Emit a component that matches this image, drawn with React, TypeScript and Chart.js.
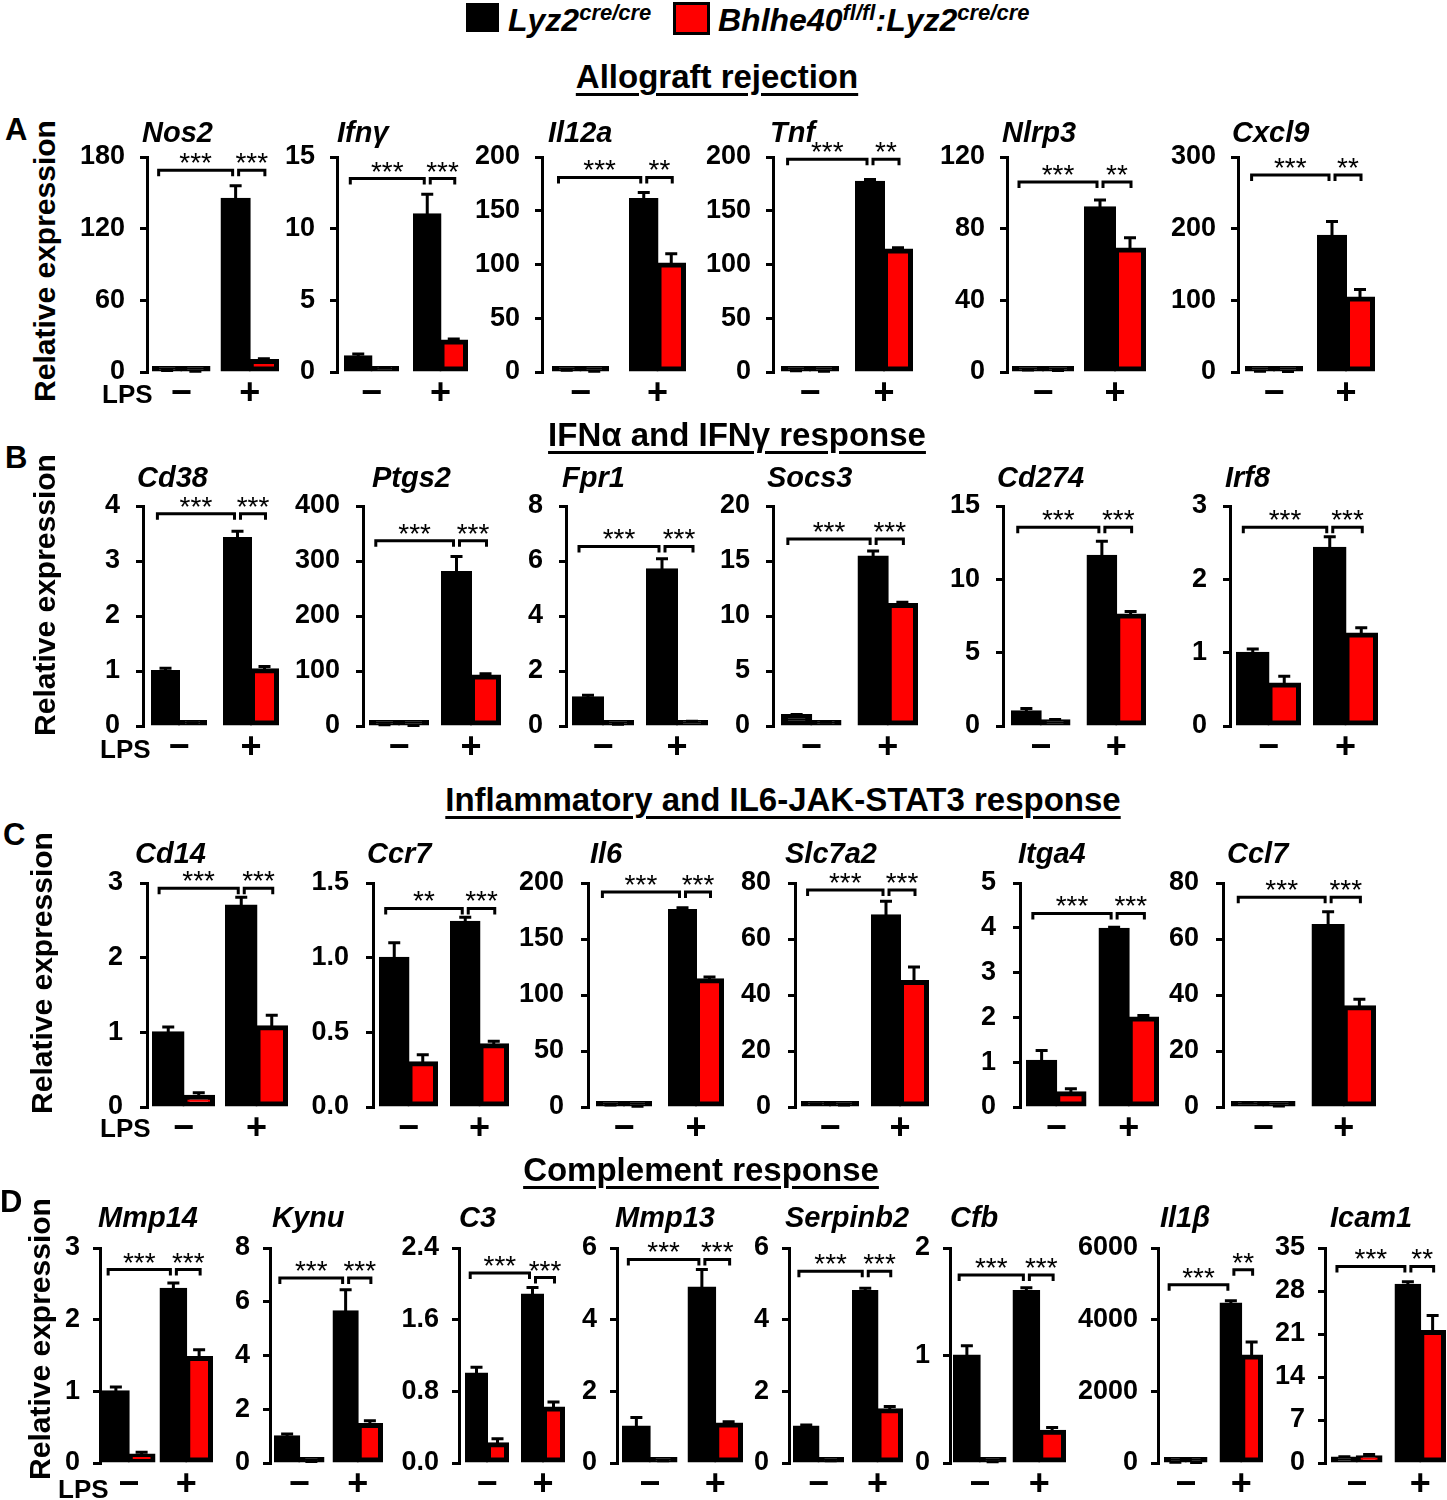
import React, { useEffect, useRef } from 'react';
import { Chart, registerables } from 'chart.js';

Chart.register(...registerables);

const FONT = '"Liberation Sans", Arial, Helvetica, sans-serif';
Chart.defaults.font.family = FONT;
Chart.defaults.color = '#000';

// ---------------- DATA ----------------
const genes = [
  'Nos2', 'Ifnγ', 'Il12a', 'Tnf', 'Nlrp3', 'Cxcl9',
  'Cd38', 'Ptgs2', 'Fpr1', 'Socs3', 'Cd274', 'Irf8',
  'Cd14', 'Ccr7', 'Il6', 'Slc7a2', 'Itga4', 'Ccl7',
  'Mmp14', 'Kynu', 'C3', 'Mmp13', 'Serpinb2', 'Cfb', 'Il1β', 'Icam1',
];
const lpsLabels = ['−', '+'];
const seriesNames = ['Lyz2', 'Bhlhe40'];

// Lyz2cre/cre (black) and Bhlhe40fl/fl:Lyz2cre/cre (red), LPS - and +
const ctrlMinus = [1, 1.1, 1.5, 1, 1, 1, 1.0, 2, 1.05, 1.0, 1.0, 1.0, 1.0, 1.0, 1.5, 1, 1.03, 1.2, 1.0, 1.0, 1.0, 1.02, 1.02, 1.0, 15, 0.9];
const koMinus = [0.5, 0.25, 0.5, 0.5, 0.8, 0.5, 0.05, 1, 0.05, 0.3, 0.4, 0.58, 0.15, 0.3, 0.5, 0.6, 0.33, 0.3, 0.12, 0.05, 0.22, 0.05, 0.05, 0.01, 10, 1.1];
const ctrlPlus = [145, 11.0, 161, 177, 92, 190, 3.42, 280, 5.7, 15.4, 11.6, 2.43, 2.7, 1.24, 176, 68.5, 3.98, 65, 2.43, 5.65, 1.88, 4.9, 4.8, 1.6, 4450, 29];
const koPlus = [10, 2.2, 101, 114, 69, 104, 1.03, 92, 0.15, 11.1, 7.6, 1.26, 1.08, 0.42, 114, 45, 2.0, 36, 1.48, 1.45, 0.62, 1.1, 1.5, 0.3, 3000, 21.5];

const errCtrlMinus = [0.2, 0.15, 0.2, 0.1, 0.1, 0.1, 0.05, 0.3, 0.07, 0.05, 0.2, 0.05, 0.07, 0.1, 0.2, 0.1, 0.23, 0.3, 0.06, 0.08, 0.07, 0.25, 0.04, 0.09, 5, 0.1];
const errKoMinus = [0.1, 0.05, 0.1, 0.1, 0.1, 0.1, 0.01, 0.1, 0.01, 0.03, 0.05, 0.1, 0.04, 0.05, 0.1, 0.1, 0.08, 0.05, 0.03, 0.01, 0.05, 0.01, 0.01, 0.002, 3, 0.3];
const errCtrlPlus = [11, 1.4, 6, 2, 4, 20, 0.12, 28, 0.38, 0.5, 1.0, 0.15, 0.11, 0.03, 2, 5, 0.03, 4.7, 0.08, 0.8, 0.08, 0.5, 0.08, 0.03, 80, 0.5];
const errKoPlus = [1, 0.1, 9, 1.5, 6, 11, 0.05, 3, 0.02, 0.15, 0.2, 0.08, 0.15, 0.02, 2, 5, 0.04, 2.5, 0.1, 0.12, 0.06, 0.05, 0.08, 0.03, 380, 2.5];

const yTicks: number[][] = [
  [0, 60, 120, 180], [0, 5, 10, 15], [0, 50, 100, 150, 200], [0, 50, 100, 150, 200], [0, 40, 80, 120], [0, 100, 200, 300],
  [0, 1, 2, 3, 4], [0, 100, 200, 300, 400], [0, 2, 4, 6, 8], [0, 5, 10, 15, 20], [0, 5, 10, 15], [0, 1, 2, 3],
  [0, 1, 2, 3], [0, 0.5, 1.0, 1.5], [0, 50, 100, 150, 200], [0, 20, 40, 60, 80], [0, 1, 2, 3, 4, 5], [0, 20, 40, 60, 80],
  [0, 1, 2, 3], [0, 2, 4, 6, 8], [0, 0.8, 1.6, 2.4], [0, 2, 4, 6], [0, 2, 4, 6], [0, 1, 2], [0, 2000, 4000, 6000], [0, 7, 14, 21, 28, 35],
];
const tickDecimals = [0, 0, 0, 0, 0, 0, 0, 0, 0, 0, 0, 0, 0, 1, 0, 0, 0, 0, 0, 0, 1, 0, 0, 0, 0, 0];

// significance: (LPS- vs LPS+ in Lyz2) and (Lyz2 vs Bhlhe40 with LPS)
const sigLong = ['***', '***', '***', '***', '***', '***', '***', '***', '***', '***', '***', '***', '***', '**', '***', '***', '***', '***', '***', '***', '***', '***', '***', '***', '***', '***'];
const sigShort = ['***', '***', '**', '**', '**', '**', '***', '***', '***', '***', '***', '***', '***', '***', '***', '***', '***', '***', '***', '***', '***', '***', '***', '***', '**', '**'];
const bracketLong = [169, 13.5, 181, 198, 106, 275, 3.86, 337, 6.53, 17.0, 13.55, 2.71, 2.93, 1.33, 192, 77.5, 4.32, 74.9, 2.70, 6.88, 2.12, 5.68, 5.35, 1.75, 4975, 32.0];
const bracketShort = [169, 13.5, 181, 198, 106, 275, 3.86, 337, 6.53, 17.0, 13.55, 2.71, 2.93, 1.33, 192, 77.5, 4.32, 74.9, 2.70, 6.88, 2.07, 5.68, 5.35, 1.75, 5395, 32.0];

const sectionTitles = ['Allograft rejection', 'IFNα and IFNγ response', 'Inflammatory and IL6-JAK-STAT3 response', 'Complement response'];
const panelLetters = ['A', 'B', 'C', 'D'];
const yTitle = 'Relative expression';
const lpsTitle = 'LPS';

// ---------------- LAYOUT ----------------
const rowOf = [0, 0, 0, 0, 0, 0, 1, 1, 1, 1, 1, 1, 2, 2, 2, 2, 2, 2, 3, 3, 3, 3, 3, 3, 3, 3];
const rowTop = [157, 506, 883, 1248];
const rowBottom = [372, 726, 1107, 1463];
const titleDy = [15, 19, 20, 21];
const tickPad = [15, 16, 17, 13];
const axisX = [147, 337, 542, 773, 1007, 1238, 143, 363, 566, 773, 1003, 1230, 147, 373, 588, 795, 1020, 1223, 100, 270, 459, 617, 789, 950, 1158, 1325];
const barsStart = [153, 345, 553, 782, 1013, 1246, 152, 370, 573, 782, 1012, 1237, 153, 380, 597, 802, 1027, 1232, 103, 275, 466, 623, 794, 954, 1165, 1332];
const barsEnd = [278, 467, 685, 912, 1145, 1374, 278, 500, 707, 917, 1145, 1377, 287, 508, 723, 928, 1158, 1375, 212, 382, 564, 742, 902, 1065, 1262, 1445];
const titleDx = [-5, 0, 6, -3, -5, -6, -6, 9, -4, -6, -6, -5, -12, -6, 2, -10, -2, 4, -2, 2, 0, -2, -4, 0, 2, 5];

const Y_W = 85;
const X_H = 48;
const PAD_TOP = 54;
const RIGHT_PAD = 6;

function geom(i: number) {
  const r = rowOf[i];
  const s = barsStart[i] - axisX[i];
  const L = barsEnd[i] - axisX[i] + s;
  const cp = 1 - (4 * s) / L;
  const plotH = rowBottom[r] - rowTop[r];
  return {
    left: axisX[i] - Y_W,
    top: rowTop[r] - PAD_TOP,
    w: Y_W + L + RIGHT_PAD,
    h: PAD_TOP + plotH + X_H,
    cp,
  };
}

function makeAnnot(i: number) {
  return {
    id: 'annot' + i,
    afterDatasetsDraw(chart: any) {
      const ctx = chart.ctx as CanvasRenderingContext2D;
      const ys = chart.scales.y;
      const area = chart.chartArea;
      const m0 = chart.getDatasetMeta(0).data;
      const m1 = chart.getDatasetMeta(1).data;
      ctx.save();
      ctx.strokeStyle = '#000';
      ctx.fillStyle = '#000';
      ctx.lineWidth = 3;
      // error bars (upper only)
      const bars: [any, number, number][] = [
        [m0[0], ctrlMinus[i], errCtrlMinus[i]],
        [m1[0], koMinus[i], errKoMinus[i]],
        [m0[1], ctrlPlus[i], errCtrlPlus[i]],
        [m1[1], koPlus[i], errKoPlus[i]],
      ];
      for (const [el, v, e] of bars) {
        const y0 = ys.getPixelForValue(v);
        const y1 = ys.getPixelForValue(v + e);
        ctx.beginPath();
        ctx.moveTo(el.x, y0);
        ctx.lineTo(el.x, y1);
        ctx.moveTo(el.x - 6, y1);
        ctx.lineTo(el.x + 6, y1);
        ctx.stroke();
      }
      // brackets
      const bw = m0[0].width;
      const l1 = m0[0].x - 0.3 * bw;
      const l2 = m0[1].x - 3;
      const s1 = m0[1].x + 3;
      const s2 = m1[1].x + 1;
      const yl = ys.getPixelForValue(bracketLong[i]);
      const ysh = ys.getPixelForValue(bracketShort[i]);
      const br = (a: number, b: number, y: number) => {
        ctx.beginPath();
        ctx.moveTo(a, y + 6);
        ctx.lineTo(a, y);
        ctx.lineTo(b, y);
        ctx.lineTo(b, y + 6);
        ctx.stroke();
      };
      br(l1, l2, yl);
      br(s1, s2, ysh);
      ctx.font = `28px ${FONT}`;
      ctx.textAlign = 'center';
      ctx.textBaseline = 'alphabetic';
      ctx.fillText(sigLong[i], (l1 + l2) / 2, yl + 2);
      ctx.fillText(sigShort[i], (s1 + s2) / 2, ysh + 2);
      // gene title
      ctx.font = `italic bold 29px ${FONT}`;
      ctx.textAlign = 'left';
      ctx.fillText(genes[i], area.left + titleDx[i], area.top - titleDy[rowOf[i]]);
      ctx.restore();
    },
  };
}

// very short bars look solid black (outline covers them) as in the figure
const fillFor = (base: string) => (c: any) => {
  const ys = c.chart.scales.y;
  if (!ys || c.raw == null) return base;
  const h = ys.getPixelForValue(0) - ys.getPixelForValue(c.raw);
  return h < 6 ? '#000' : base;
};

function makeChart(canvas: HTMLCanvasElement, i: number) {
  const g = geom(i);
  const r = rowOf[i];
  const common = {
    borderColor: '#000',
    borderWidth: 5,
    borderSkipped: false as const,
    inflateAmount: 1,
    minBarLength: 5,
    barPercentage: 1,
    categoryPercentage: g.cp,
  };
  return new Chart(canvas, {
    type: 'bar',
    data: {
      labels: lpsLabels,
      datasets: [
        { label: seriesNames[0], data: [ctrlMinus[i], ctrlPlus[i]], backgroundColor: '#000', ...common },
        { label: seriesNames[1], data: [koMinus[i], koPlus[i]], backgroundColor: fillFor('#ff0000'), ...common },
      ],
    },
    options: {
      animation: false,
      responsive: false,
      devicePixelRatio: 1,
      layout: { padding: { top: PAD_TOP, left: 0, right: RIGHT_PAD, bottom: 0 } },
      plugins: { legend: { display: false }, tooltip: { enabled: false }, title: { display: false } },
      scales: {
        x: {
          grid: { display: false, drawTicks: false },
          border: { display: false },
          ticks: { font: { size: 36, weight: 'bold' }, color: '#000', padding: 0, maxRotation: 0, autoSkip: false },
          afterFit: (s: any) => { s.height = X_H; },
        },
        y: {
          min: 0,
          max: yTicks[i][yTicks[i].length - 1],
          border: { display: true, width: 3, color: '#000' },
          grid: { drawOnChartArea: false, drawTicks: true, tickLength: 7, tickWidth: 3, lineWidth: 3, tickColor: '#000', color: '#000' },
          ticks: {
            font: { size: 27, weight: 'bold' },
            color: '#000',
            padding: tickPad[r],
            autoSkip: false,
            callback: (v: any) => Number(v).toFixed(tickDecimals[i]),
          },
          afterBuildTicks: (s: any) => { s.ticks = yTicks[i].map((v) => ({ value: v })); },
          afterFit: (s: any) => { s.width = Y_W; },
        },
      },
    } as any,
    plugins: [makeAnnot(i)],
  });
}

// HTML text layout
const sectionCenterX = [717, 737, 783, 701];
const sectionBaseline = [88, 446, 811, 1181];
const letterPos = [[5, 140], [5, 468], [3, 845], [0, 1212]];
const yTitlePos = [[45, 261], [45, 595], [42, 973], [40, 1339]];
const lpsPos = [[102, 403], [100, 758], [100, 1137], [58, 1498]];

const bt = (baseline: number, fs: number) => baseline - 0.8465 * fs;

export default function App() {
  const refs = useRef<(HTMLCanvasElement | null)[]>([]);
  useEffect(() => {
    const charts = genes.map((_, i) => makeChart(refs.current[i] as HTMLCanvasElement, i));
    return () => charts.forEach((c) => c.destroy());
  }, []);

  const sup = (t: string) => (
    <span style={{ fontSize: 22, position: 'relative', top: -11, lineHeight: '22px' }}>{t}</span>
  );

  return (
    <div style={{ position: 'absolute', left: 0, top: 0, width: 1447, height: 1500, overflow: 'hidden', background: '#fff', fontFamily: FONT, color: '#000' }}>
      {genes.map((_, i) => {
        const g = geom(i);
        return (
          <canvas
            key={i}
            ref={(el) => { refs.current[i] = el; }}
            width={g.w}
            height={g.h}
            style={{ position: 'absolute', left: g.left, top: g.top, width: g.w, height: g.h, display: 'block' }}
          />
        );
      })}

      {/* legend */}
      <div style={{ position: 'absolute', left: 466, top: 3, width: 33, height: 29, background: '#000' }} />
      <div style={{ position: 'absolute', left: 508, top: bt(31, 32), fontSize: 32, lineHeight: '32px', fontWeight: 'bold', fontStyle: 'italic', whiteSpace: 'nowrap' }}>
        Lyz2{sup('cre/cre')}
      </div>
      <div style={{ position: 'absolute', left: 673, top: 2, width: 37, height: 33, background: '#ff0000', border: '3px solid #000', boxSizing: 'border-box' }} />
      <div style={{ position: 'absolute', left: 718, top: bt(31, 32), fontSize: 32, lineHeight: '32px', fontWeight: 'bold', fontStyle: 'italic', whiteSpace: 'nowrap' }}>
        Bhlhe40{sup('fl/fl')}:Lyz2{sup('cre/cre')}
      </div>

      {sectionTitles.map((t, k) => (
        <div key={'s' + k} style={{ position: 'absolute', left: sectionCenterX[k], top: bt(sectionBaseline[k], 33), transform: 'translateX(-50%)', fontSize: 33, lineHeight: '33px', fontWeight: 'bold', whiteSpace: 'nowrap', textDecoration: 'underline', textDecorationThickness: '3px', textUnderlineOffset: '5px' }}>
          {t}
        </div>
      ))}

      {panelLetters.map((t, k) => (
        <div key={'l' + k} style={{ position: 'absolute', left: letterPos[k][0], top: bt(letterPos[k][1], 31), fontSize: 31, lineHeight: '31px', fontWeight: 'bold' }}>
          {t}
        </div>
      ))}

      {yTitlePos.map((p, k) => (
        <div key={'y' + k} style={{ position: 'absolute', left: p[0], top: p[1], transform: 'translate(-50%, -50%) rotate(-90deg)', fontSize: 30, lineHeight: '30px', fontWeight: 'bold', whiteSpace: 'nowrap' }}>
          {yTitle}
        </div>
      ))}

      {lpsPos.map((p, k) => (
        <div key={'p' + k} style={{ position: 'absolute', left: p[0], top: bt(p[1], 26), fontSize: 26, lineHeight: '26px', fontWeight: 'bold' }}>
          {lpsTitle}
        </div>
      ))}
    </div>
  );
}
